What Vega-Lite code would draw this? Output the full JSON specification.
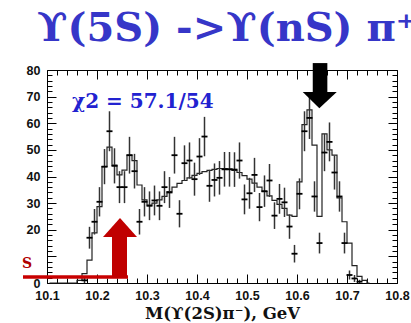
{
  "$schema": "https://vega.github.io/schema/vega-lite/v6.json",
  "width": 350,
  "height": 213,
  "autosize": {"type": "none"},
  "padding": {"left": 47, "top": 70, "right": 14, "bottom": 40},
  "background": "white",
  "config": {"view": {"stroke": null}},
  "title": {
    "text": "ϒ(5S) ->ϒ(nS) π⁺π⁻",
    "anchor": "start",
    "frame": "group",
    "font": "DejaVu Serif",
    "fontWeight": "bold",
    "fontSize": 40,
    "color": "#3636c8",
    "dx": -10,
    "offset": 14
  },
  "datasets": {
    "hist": [
      {"m": 10.105, "n": 0}, {"m": 10.115, "n": 0}, {"m": 10.125, "n": 0}, {"m": 10.135, "n": 0},
      {"m": 10.145, "n": 0}, {"m": 10.155, "n": 0}, {"m": 10.165, "n": 1}, {"m": 10.175, "n": 3.5},
      {"m": 10.185, "n": 8.6}, {"m": 10.195, "n": 18.8}, {"m": 10.205, "n": 28.7}, {"m": 10.215, "n": 43.7},
      {"m": 10.225, "n": 51}, {"m": 10.235, "n": 44.3}, {"m": 10.245, "n": 40.6}, {"m": 10.255, "n": 42.4},
      {"m": 10.265, "n": 48}, {"m": 10.275, "n": 46}, {"m": 10.285, "n": 36.8}, {"m": 10.295, "n": 31.2},
      {"m": 10.305, "n": 29.3}, {"m": 10.315, "n": 30}, {"m": 10.325, "n": 31.2}, {"m": 10.335, "n": 32.5},
      {"m": 10.345, "n": 34.3}, {"m": 10.355, "n": 36}, {"m": 10.365, "n": 37.4}, {"m": 10.375, "n": 38.5},
      {"m": 10.385, "n": 39.5}, {"m": 10.395, "n": 40.4}, {"m": 10.405, "n": 41.2}, {"m": 10.415, "n": 41.8},
      {"m": 10.425, "n": 42.3}, {"m": 10.435, "n": 42.7}, {"m": 10.445, "n": 43}, {"m": 10.455, "n": 43},
      {"m": 10.465, "n": 42.8}, {"m": 10.475, "n": 42.3}, {"m": 10.485, "n": 41.5}, {"m": 10.495, "n": 40.3},
      {"m": 10.505, "n": 39}, {"m": 10.515, "n": 37.5}, {"m": 10.525, "n": 36}, {"m": 10.535, "n": 34.3},
      {"m": 10.545, "n": 32.7}, {"m": 10.555, "n": 31}, {"m": 10.565, "n": 29.5}, {"m": 10.575, "n": 28},
      {"m": 10.585, "n": 25.5}, {"m": 10.595, "n": 25}, {"m": 10.605, "n": 38}, {"m": 10.615, "n": 59.5},
      {"m": 10.625, "n": 65}, {"m": 10.635, "n": 51.8}, {"m": 10.645, "n": 25}, {"m": 10.655, "n": 56},
      {"m": 10.665, "n": 50}, {"m": 10.675, "n": 48}, {"m": 10.685, "n": 32}, {"m": 10.695, "n": 23},
      {"m": 10.705, "n": 15}, {"m": 10.715, "n": 6.5}, {"m": 10.725, "n": 2.5}, {"m": 10.735, "n": 1},
      {"m": 10.745, "n": 0}
    ],
    "pts": [
      {"m": 10.175, "n": 1, "lo": 0, "hi": 2},
      {"m": 10.185, "n": 17, "lo": 12.9, "hi": 21.1},
      {"m": 10.195, "n": 23, "lo": 18.2, "hi": 27.8},
      {"m": 10.205, "n": 30.5, "lo": 25, "hi": 36},
      {"m": 10.215, "n": 43.7, "lo": 37.1, "hi": 50.3},
      {"m": 10.225, "n": 57, "lo": 49.5, "hi": 64.5},
      {"m": 10.235, "n": 44, "lo": 37.4, "hi": 50.6},
      {"m": 10.245, "n": 36, "lo": 30, "hi": 42},
      {"m": 10.255, "n": 36, "lo": 30, "hi": 42},
      {"m": 10.265, "n": 48, "lo": 41.1, "hi": 54.9},
      {"m": 10.275, "n": 42, "lo": 35.5, "hi": 48.5},
      {"m": 10.285, "n": 23, "lo": 18.2, "hi": 27.8},
      {"m": 10.295, "n": 30.5, "lo": 25, "hi": 36},
      {"m": 10.305, "n": 29, "lo": 23.6, "hi": 34.4},
      {"m": 10.315, "n": 31, "lo": 25.4, "hi": 36.6},
      {"m": 10.325, "n": 29, "lo": 23.6, "hi": 34.4},
      {"m": 10.335, "n": 36, "lo": 30, "hi": 42},
      {"m": 10.345, "n": 34, "lo": 28.2, "hi": 39.8},
      {"m": 10.355, "n": 48, "lo": 41.1, "hi": 54.9},
      {"m": 10.365, "n": 26, "lo": 20.9, "hi": 31.1},
      {"m": 10.375, "n": 45, "lo": 38.3, "hi": 51.7},
      {"m": 10.385, "n": 46, "lo": 39.2, "hi": 52.8},
      {"m": 10.395, "n": 39, "lo": 32.8, "hi": 45.2},
      {"m": 10.405, "n": 47.5, "lo": 40.6, "hi": 54.4},
      {"m": 10.415, "n": 55, "lo": 47.6, "hi": 62.4},
      {"m": 10.425, "n": 36.5, "lo": 30.5, "hi": 42.5},
      {"m": 10.435, "n": 38.7, "lo": 32.5, "hi": 44.9},
      {"m": 10.445, "n": 39.5, "lo": 33.2, "hi": 45.8},
      {"m": 10.455, "n": 42.7, "lo": 36.2, "hi": 49.2},
      {"m": 10.465, "n": 42.7, "lo": 36.2, "hi": 49.2},
      {"m": 10.475, "n": 42.6, "lo": 36.1, "hi": 49.1},
      {"m": 10.485, "n": 46, "lo": 39.2, "hi": 52.8},
      {"m": 10.495, "n": 31.4, "lo": 25.8, "hi": 37},
      {"m": 10.505, "n": 33.7, "lo": 27.9, "hi": 39.5},
      {"m": 10.515, "n": 40.6, "lo": 34.2, "hi": 47},
      {"m": 10.525, "n": 28.5, "lo": 23.2, "hi": 33.8},
      {"m": 10.535, "n": 34.5, "lo": 28.6, "hi": 40.4},
      {"m": 10.545, "n": 38.5, "lo": 32.3, "hi": 44.7},
      {"m": 10.555, "n": 25.3, "lo": 20.3, "hi": 30.3},
      {"m": 10.565, "n": 31.6, "lo": 26, "hi": 37.2},
      {"m": 10.575, "n": 30.3, "lo": 24.8, "hi": 35.8},
      {"m": 10.585, "n": 21.2, "lo": 16.6, "hi": 25.8},
      {"m": 10.595, "n": 11, "lo": 7.7, "hi": 14.3},
      {"m": 10.605, "n": 33.5, "lo": 27.7, "hi": 39.3},
      {"m": 10.615, "n": 57, "lo": 49.5, "hi": 64.5},
      {"m": 10.625, "n": 62, "lo": 54.1, "hi": 69.9},
      {"m": 10.635, "n": 32.5, "lo": 26.8, "hi": 38.2},
      {"m": 10.645, "n": 15, "lo": 11.1, "hi": 18.9},
      {"m": 10.655, "n": 49, "lo": 42, "hi": 56},
      {"m": 10.665, "n": 53, "lo": 45.7, "hi": 60.3},
      {"m": 10.675, "n": 41.5, "lo": 35.1, "hi": 47.9},
      {"m": 10.685, "n": 32.5, "lo": 26.8, "hi": 38.2},
      {"m": 10.695, "n": 15, "lo": 11.1, "hi": 18.9},
      {"m": 10.705, "n": 3, "lo": 1.3, "hi": 4.7},
      {"m": 10.715, "n": 1.7, "lo": 0.4, "hi": 3},
      {"m": 10.725, "n": 0.5, "lo": 0, "hi": 1.2}
    ],
    "redline": [{"x1": 10.052, "x2": 10.262, "y": 2.25}],
    "redshaft": [{"x1": 10.23, "x2": 10.26, "y1": 2.0, "y2": 17.3}],
    "redhead": [{"x": 10.212, "top": 17.3, "base": 17.3}, {"x": 10.246, "top": 24.4, "base": 17.3}, {"x": 10.28, "top": 17.3, "base": 17.3}],
    "blackshaft": [{"x1": 10.6315, "x2": 10.6607, "y1": 71.5, "y2": 82.6}],
    "blackhead": [{"x": 10.6115, "top": 71.7, "base": 71.7}, {"x": 10.6447, "top": 65.6, "base": 71.7}, {"x": 10.6795, "top": 71.7, "base": 71.7}],
    "chi": [{"x": 10.15, "y": 65.6, "label": "χ2 = 57.1/54"}],
    "stext": [{"x": 10.07, "y": 5.6, "label": "S"}]
  },
  "layer": [
    {
      "data": {"name": "hist"},
      "mark": {"type": "line", "interpolate": "step", "color": "#222222", "strokeWidth": 1.2},
      "encoding": {
        "x": {
          "field": "m", "type": "quantitative",
          "scale": {"domain": [10.1, 10.8], "nice": false, "zero": false},
          "axis": {
            "orient": "bottom",
            "values": [10.1, 10.12, 10.14, 10.16, 10.18, 10.2, 10.22, 10.24, 10.26, 10.28, 10.3, 10.32, 10.34, 10.36, 10.38, 10.4, 10.42, 10.44, 10.46, 10.48, 10.5, 10.52, 10.54, 10.56, 10.58, 10.6, 10.62, 10.64, 10.66, 10.68, 10.7, 10.72, 10.74, 10.76, 10.78, 10.8],
            "labelExpr": "abs(datum.value*10 - round(datum.value*10)) < 0.001 ? format(datum.value, '.1f') : ''",
            "tickSize": {"condition": {"test": "abs(datum.value*10 - round(datum.value*10)) < 0.001", "value": -9}, "value": -5},
            "labelPadding": 15,
            "labelFlush": false,
            "labelOverlap": false,
            "labelBound": false,
            "labelFont": "Liberation Sans",
            "labelFontWeight": "bold",
            "labelFontSize": 12.5,
            "labelColor": "#111111",
            "domainColor": "#000000",
            "tickColor": "#000000",
            "grid": false,
            "title": "M(ϒ(2S)π⁻), GeV",
            "titleFont": "DejaVu Serif",
            "titleFontWeight": "bold",
            "titleFontSize": 16.5,
            "titleColor": "#111111",
            "titlePadding": 0
          }
        },
        "y": {
          "field": "n", "type": "quantitative",
          "scale": {"domain": [0, 80], "nice": false},
          "axis": {
            "orient": "left",
            "values": [0, 2, 4, 6, 8, 10, 12, 14, 16, 18, 20, 22, 24, 26, 28, 30, 32, 34, 36, 38, 40, 42, 44, 46, 48, 50, 52, 54, 56, 58, 60, 62, 64, 66, 68, 70, 72, 74, 76, 78, 80],
            "labelExpr": "datum.value % 10 == 0 && datum.value != 10 ? datum.label : ''",
            "tickSize": {"condition": {"test": "datum.value % 10 == 0", "value": -9}, "value": -5},
            "labelPadding": 16,
            "labelFlush": false,
            "labelOverlap": false,
            "labelBound": false,
            "labelFont": "Liberation Sans",
            "labelFontWeight": "bold",
            "labelFontSize": 12.5,
            "labelColor": "#111111",
            "domainColor": "#000000",
            "tickColor": "#000000",
            "grid": false,
            "title": null
          }
        }
      }
    },
    {
      "data": {"name": "pts"},
      "mark": {"type": "rule", "color": "#333333", "strokeWidth": 1.5},
      "encoding": {
        "x": {
          "field": "m", "type": "quantitative",
          "scale": {"domain": [10.1, 10.8], "nice": false, "zero": false},
          "axis": {
            "orient": "top",
            "values": [10.1, 10.12, 10.14, 10.16, 10.18, 10.2, 10.22, 10.24, 10.26, 10.28, 10.3, 10.32, 10.34, 10.36, 10.38, 10.4, 10.42, 10.44, 10.46, 10.48, 10.5, 10.52, 10.54, 10.56, 10.58, 10.6, 10.62, 10.64, 10.66, 10.68, 10.7, 10.72, 10.74, 10.76, 10.78, 10.8],
            "labels": false,
            "tickSize": {"condition": {"test": "abs(datum.value*10 - round(datum.value*10)) < 0.001", "value": -9}, "value": -5},
            "domainColor": "#000000",
            "tickColor": "#000000",
            "grid": false,
            "title": null
          }
        },
        "y": {
          "field": "lo", "type": "quantitative",
          "scale": {"domain": [0, 80], "nice": false},
          "axis": {
            "orient": "right",
            "values": [0, 2, 4, 6, 8, 10, 12, 14, 16, 18, 20, 22, 24, 26, 28, 30, 32, 34, 36, 38, 40, 42, 44, 46, 48, 50, 52, 54, 56, 58, 60, 62, 64, 66, 68, 70, 72, 74, 76, 78, 80],
            "labels": false,
            "tickSize": {"condition": {"test": "datum.value % 10 == 0", "value": -9}, "value": -5},
            "domainColor": "#000000",
            "tickColor": "#000000",
            "grid": false,
            "title": null
          }
        },
        "y2": {"field": "hi"}
      }
    },
    {
      "data": {"name": "pts"},
      "mark": {"type": "point", "shape": "stroke", "size": 36, "filled": false, "color": "#000000", "strokeWidth": 1.8, "opacity": 1},
      "encoding": {
        "x": {"field": "m", "type": "quantitative", "axis": null},
        "y": {"field": "n", "type": "quantitative", "axis": null}
      }
    },
    {
      "data": {"name": "redline"},
      "mark": {"type": "rule", "color": "#c80000", "strokeWidth": 3.5},
      "encoding": {
        "x": {"field": "x1", "type": "quantitative", "axis": null},
        "x2": {"field": "x2"},
        "y": {"field": "y", "type": "quantitative", "axis": null}
      }
    },
    {
      "data": {"name": "redshaft"},
      "mark": {"type": "rect", "color": "#c00000"},
      "encoding": {
        "x": {"field": "x1", "type": "quantitative", "axis": null},
        "x2": {"field": "x2"},
        "y": {"field": "y1", "type": "quantitative", "axis": null},
        "y2": {"field": "y2"}
      }
    },
    {
      "data": {"name": "redhead"},
      "mark": {"type": "area", "color": "#c00000", "opacity": 1},
      "encoding": {
        "x": {"field": "x", "type": "quantitative", "axis": null},
        "y": {"field": "top", "type": "quantitative", "axis": null},
        "y2": {"field": "base"}
      }
    },
    {
      "data": {"name": "blackshaft"},
      "mark": {"type": "rect", "color": "#000000"},
      "encoding": {
        "x": {"field": "x1", "type": "quantitative", "axis": null},
        "x2": {"field": "x2"},
        "y": {"field": "y1", "type": "quantitative", "axis": null},
        "y2": {"field": "y2"}
      }
    },
    {
      "data": {"name": "blackhead"},
      "mark": {"type": "area", "color": "#000000", "opacity": 1},
      "encoding": {
        "x": {"field": "x", "type": "quantitative", "axis": null},
        "y": {"field": "top", "type": "quantitative", "axis": null},
        "y2": {"field": "base"}
      }
    },
    {
      "data": {"name": "chi"},
      "mark": {"type": "text", "align": "left", "baseline": "alphabetic", "font": "DejaVu Serif", "fontWeight": "bold", "fontSize": 20, "color": "#2222d0"},
      "encoding": {
        "x": {"field": "x", "type": "quantitative", "axis": null},
        "y": {"field": "y", "type": "quantitative", "axis": null},
        "text": {"field": "label"}
      }
    },
    {
      "data": {"name": "stext"},
      "mark": {"type": "text", "align": "right", "baseline": "alphabetic", "font": "DejaVu Serif", "fontWeight": "bold", "fontSize": 14, "color": "#b00000"},
      "encoding": {
        "x": {"field": "x", "type": "quantitative", "axis": null},
        "y": {"field": "y", "type": "quantitative", "axis": null},
        "text": {"field": "label"}
      }
    }
  ],
  "resolve": {"axis": {"x": "independent", "y": "independent"}}
}
